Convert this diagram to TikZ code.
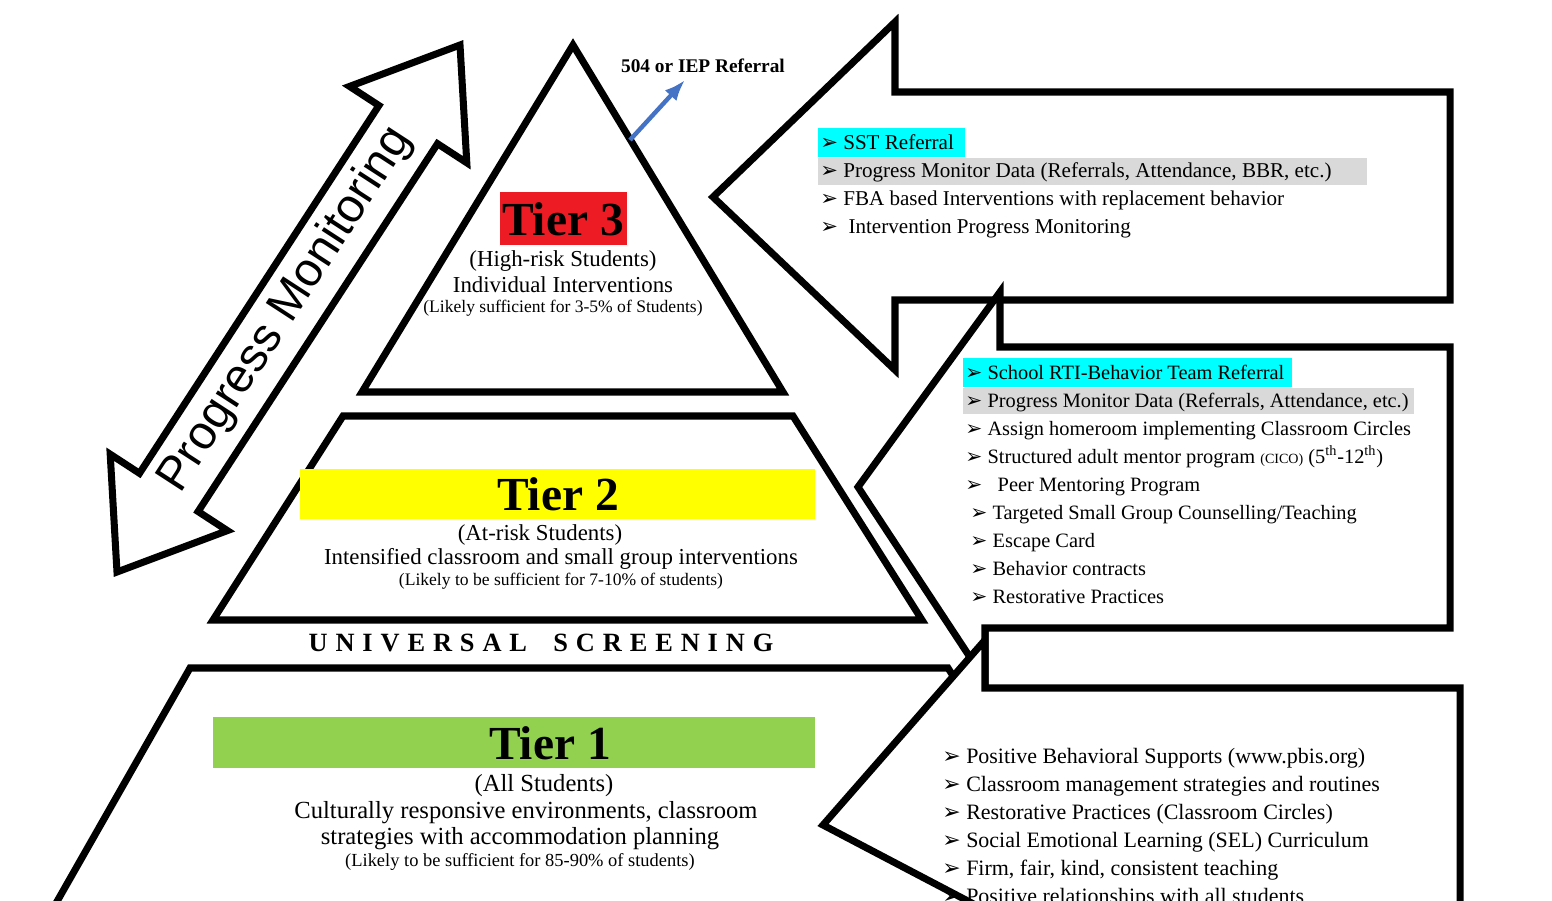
\documentclass[tikz,border=0pt]{standalone}
\usepackage{fontspec}
\setmainfont{Liberation Serif}
\newfontfamily\arrowfont{DejaVu Sans}
\newfontfamily\pmfont{Liberation Sans}
\usetikzlibrary{positioning,arrows.meta}
\definecolor{tierred}{RGB}{237,28,36}
\definecolor{tieryellow}{RGB}{255,255,0}
\definecolor{tiergreen}{RGB}{146,208,80}
\definecolor{hlcyan}{RGB}{0,255,255}
\definecolor{hlgray}{RGB}{217,217,217}
\definecolor{refblue}{RGB}{68,114,196}
\newcommand{\itm}{{\arrowfont\char"27A2}\ }
\tikzset{
	outline/.style={draw=black, line width=4pt, line join=miter, fill=white},
	tiertitle/.style={font=\fontsize{27}{30}\selectfont\bfseries, inner sep=0pt},
	listtext/.style={align=left, anchor=north west, inner sep=0pt}
}

\begin{document}
\begin{tikzpicture}[x=0.02cm, y=-0.02cm]
	
	\useasboundingbox (0,0) rectangle (1552,900);
	\clip (0,0) rectangle (1552,900);
	
	% Pyramid
	\draw[outline] (573,45) -- (783,392) -- (362,392) -- cycle;
	\draw[outline] (343,416) -- (793,416) -- (922,620) -- (213,620) -- cycle;
	\draw[outline] (55,905) -- (190,668) -- (948,668) -- (1100,905);
	
	% Progress monitoring arrow
	\draw[outline] (117,572) -- (110.2,454.2) -- (139.5,473.3) -- (378.9,105.5)
		-- (349.6,86.4) -- (460,45) -- (466.8,162.8) -- (437.5,143.7)
		-- (198.1,511.5) -- (227.4,530.6) -- cycle;
	\node[font=\pmfont\fontsize{27}{30}\selectfont, rotate=57] (pm) at (286,310) {Progress Monitoring};
	
	% Block arrows
	\draw[outline] (713,197) -- (895,22) -- (895,92) -- (1450,92) -- (1450,300)
		-- (895,300) -- (895,370) -- cycle;
	\draw[outline] (858,487) -- (1000,292) -- (1000,347) -- (1450,347) -- (1450,628)
		-- (985,628) -- (985,680) -- cycle;
	\draw[outline] (823,825) -- (985,640) -- (985,688) -- (1460,688) -- (1460,910)
		-- (985,910) -- cycle;
	
	% Highlights
	\fill[tierred] (500,192) rectangle (627,245);
	\fill[tieryellow] (300,469) rectangle (815,519);
	\fill[tiergreen] (213,717) rectangle (815,768);
	\fill[hlcyan] (818,128) rectangle (965,157);
	\fill[hlgray] (818,158) rectangle (1367,185);
	\fill[hlcyan] (963,358) rectangle (1292,387);
	\fill[hlgray] (963,388) rectangle (1414,414);
	
	% Tier 3
	\node[tiertitle] (t3) at (563,219) {Tier 3};
	\node[font=\fontsize{13}{15}\selectfont] (t3a) at (563,261) {(High-risk Students)};
	\node[font=\fontsize{13}{15}\selectfont] (t3b) at (563,285) {Individual Interventions};
	\node[font=\fontsize{10}{12}\selectfont] (t3pct) at (563,308) {(Likely sufficient for 3-5\% of Students)};
	
	% Tier 2
	\node[tiertitle] (t2) at (558,494) {Tier 2};
	\node[font=\fontsize{13}{15}\selectfont] (t2a) at (540,535) {(At-risk Students)};
	\node[font=\fontsize{13}{15}\selectfont] (t2b) at (561,559) {Intensified classroom and small group interventions};
	\node[font=\fontsize{10}{12}\selectfont] (t2pct) at (561,581) {(Likely to be sufficient for 7-10\% of students)};
	
	\node[font=\fontsize{15}{17}\selectfont\bfseries\addfontfeature{LetterSpace=30}] (us) at (541,643)
		{UNIVERSAL\quad SCREENING};
	
	% Tier 1
	\node[tiertitle] (t1) at (550,743) {Tier 1};
	\node[font=\fontsize{14}{17}\selectfont] (t1a) at (544,786) {(All Students)};
	\node[font=\fontsize{14}{17}\selectfont] (t1b) at (526,813) {Culturally responsive environments, classroom};
	\node[font=\fontsize{14}{17}\selectfont] (t1c) at (520,839) {strategies with accommodation planning};
	\node[font=\fontsize{10.5}{12}\selectfont] (t1pct) at (520,862) {(Likely to be sufficient for 85-90\% of students)};
	
	% Referral
	\node[font=\fontsize{11}{13}\selectfont\bfseries] (iep) at (703,66) {504 or IEP Referral};
	\coordinate (iepfrom) at (630,140);
	\draw[refblue, line width=2.5pt, -{Latex[length=12pt]}] (iepfrom) -- (685,80);
	
	% Lists
	\node[listtext, font=\fontsize{12}{15.9}\selectfont] (l3) at (820,134)
		{\itm SST Referral\\\itm Progress Monitor Data (Referrals, Attendance, BBR, etc.)\\
		\itm FBA based Interventions with replacement behavior\\\itm\ Intervention Progress Monitoring};
	\node[listtext, font=\fontsize{11.6}{15.9}\selectfont] (l2) at (965,365)
		{\itm School RTI-Behavior Team Referral\\\itm Progress Monitor Data (Referrals, Attendance, etc.)\\
		\itm Assign homeroom implementing Classroom Circles\\
		\itm Structured adult mentor program {\footnotesize(CICO)} (5\textsuperscript{th}-12\textsuperscript{th})\\
		\itm\ \ Peer Mentoring Program\\\ \itm Targeted Small Group Counselling/Teaching\\
		\ \itm Escape Card\\\ \itm Behavior contracts\\\ \itm Restorative Practices};
	\node[listtext, font=\fontsize{12.5}{15.9}\selectfont] (l1) at (942,748)
		{\itm Positive Behavioral Supports (www.pbis.org)\\\itm Classroom management strategies and routines\\
		\itm Restorative Practices (Classroom Circles)\\\itm Social Emotional Learning (SEL) Curriculum\\
		\itm Firm, fair, kind, consistent teaching\\\itm Positive relationships with all students};
	
\end{tikzpicture}
\end{document}
